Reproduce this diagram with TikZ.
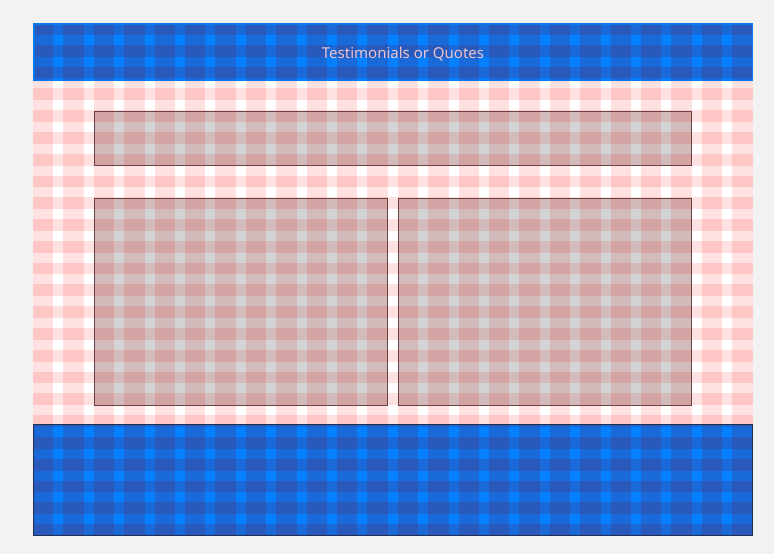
\documentclass[tikz,border=0pt]{standalone}
\usepackage{fontspec}
\setmainfont{Noto Sans}
\definecolor{page}{HTML}{F2F2F2}
\definecolor{band}{HTML}{0580FF}
\definecolor{bandedge}{HTML}{0A78E6}
\definecolor{foot}{HTML}{1F2E52}
\definecolor{overlay}{HTML}{FF1010}
\definecolor{shade}{HTML}{552A66}
\definecolor{frame}{HTML}{6A4245}
\definecolor{caption}{HTML}{EDC3CF}

\begin{document}
\begin{tikzpicture}[x=1pt,y=-1pt,
  stripe/.style={fill=overlay,fill opacity=.125},
  bluestripe/.style={fill=shade,fill opacity=.25},
  slot/.style={fill=black,fill opacity=.17,draw=frame,draw opacity=1,line width=.8pt},
  title/.style={text=caption,font=\fontsize{15}{17}\selectfont}
]
  \useasboundingbox[fill=page] (0,0) rectangle (774,554);
  \fill[white] (33,81) rectangle (753,424);
  \fill[band] (33,23) rectangle (753,81);
  \fill[band] (33,424) rectangle (753,536);

  % layout grid: 24 columns, 24 rows
  \begin{scope}
    \clip (33,81) rectangle (753,424);
    \foreach \i in {0,...,23}{
      \fill[stripe] ({33+30.4*\i},23) rectangle ++(20.4,513);
      \fill[stripe] (33,{23+21.79*\i}) rectangle ++(720,11.79);
    }
  \end{scope}
  \begin{scope}
    \clip (33,23) rectangle (753,81) (33,424) rectangle (753,536);
    \foreach \i in {0,...,23}{
      \fill[bluestripe] ({33+30.4*\i},23) rectangle ++(20.4,513);
      \fill[bluestripe] (33,{23+21.79*\i}) rectangle ++(720,11.79);
    }
  \end{scope}

  \draw[bandedge,line width=1.5pt] (33.75,23.75) rectangle (752.25,80.25);
  \draw[foot,line width=1pt] (33.5,424.5) rectangle (752.5,535.5);

  \draw[slot] (94,111) rectangle (691,165);
  \draw[slot] (94,198) rectangle (387,405);
  \draw[slot] (398,198) rectangle (691,405);

  \node[title] (head) at (403,54) {Testimonials or Quotes};
\end{tikzpicture}
\end{document}
